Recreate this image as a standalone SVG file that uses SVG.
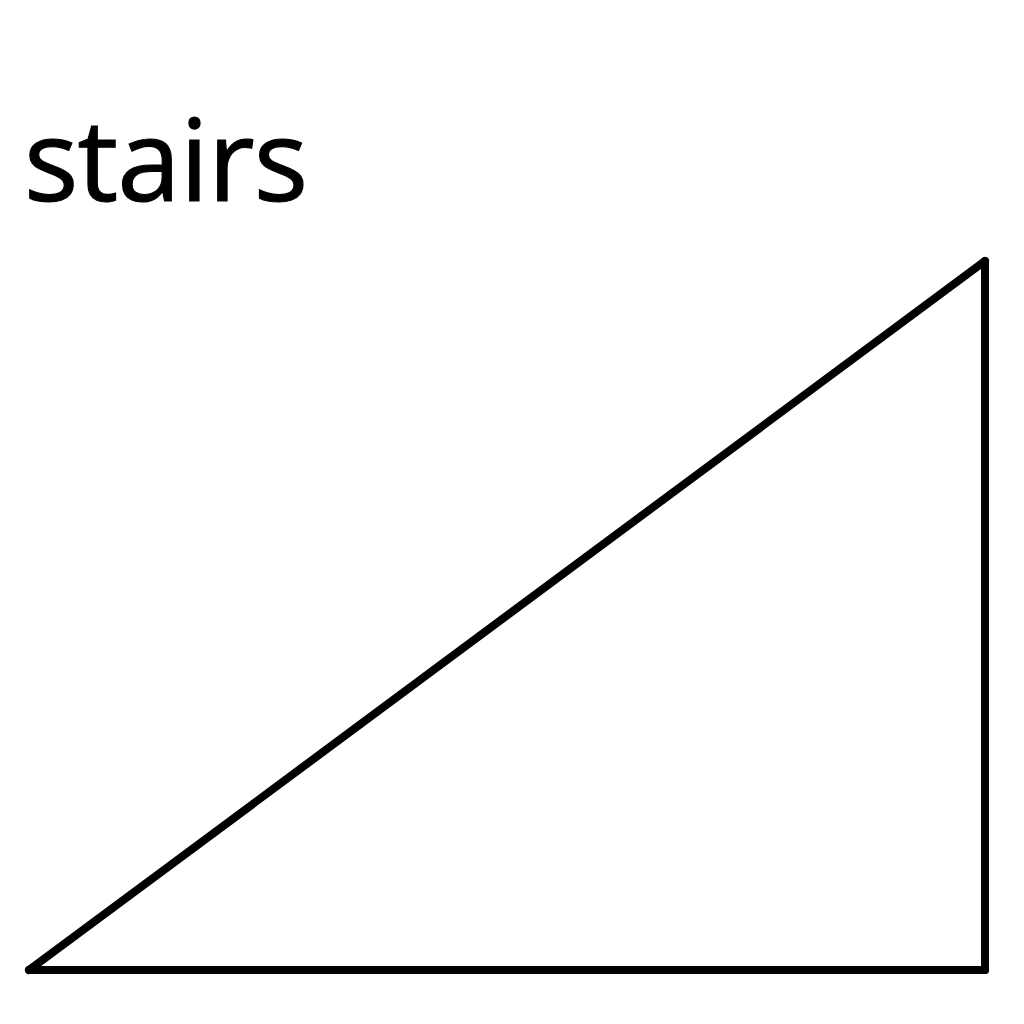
<svg xmlns="http://www.w3.org/2000/svg" width="1024" height="1024" viewBox="0 0 1024 1024">
<style>
.lbl{font-family:"Open Sans","Noto Sans",sans-serif;font-size:114px;fill:#000;stroke:#000;stroke-width:1.2}
.edge{fill:none;stroke:#000;stroke-width:8;stroke-linecap:round;stroke-linejoin:round}
</style>
<rect width="1024" height="1024" fill="#fff"/>
<g id="title"><text class="lbl" x="24" y="201" textLength="284" lengthAdjust="spacing">stairs</text></g>
<g id="connectors">
<line class="edge" x1="29" y1="970" x2="985" y2="261"/>
<line class="edge" x1="985" y1="261" x2="985" y2="970"/>
<line class="edge" x1="29" y1="970" x2="985" y2="970"/>
</g>
</svg>
